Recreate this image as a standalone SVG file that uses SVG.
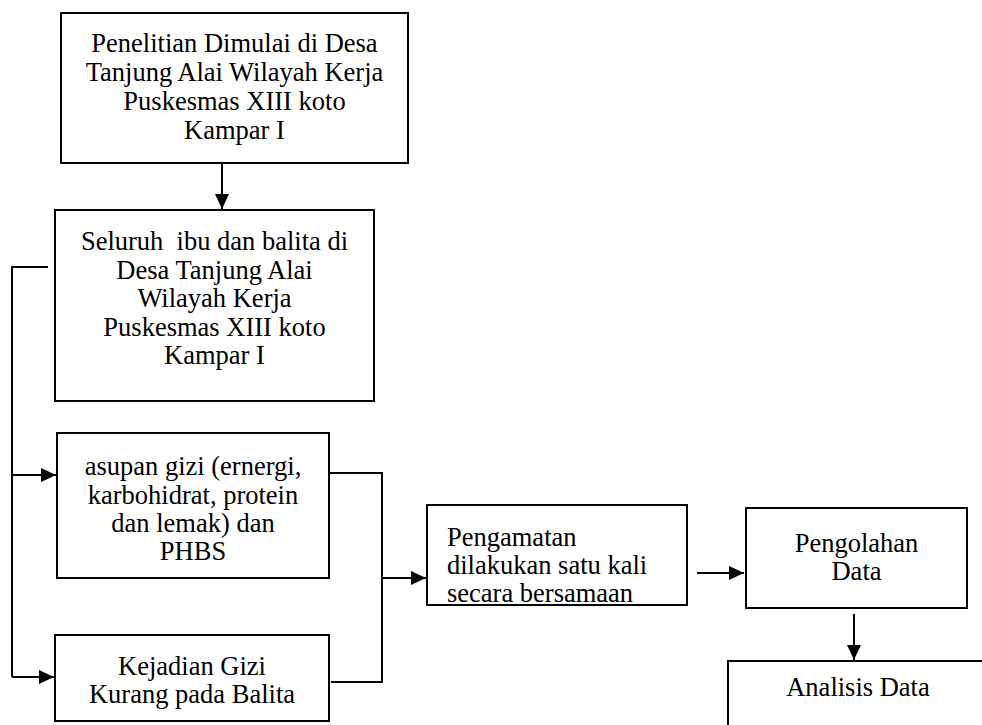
<svg xmlns="http://www.w3.org/2000/svg" width="982" height="725" viewBox="0 0 982 725">
<defs>
<marker id="ah" markerUnits="userSpaceOnUse" markerWidth="16" markerHeight="14" refX="15" refY="7" orient="auto">
<path d="M0,0 L15,7 L0,14 Z" fill="#000"/>
</marker>
<style>
.box{fill:#fff;stroke:#000;stroke-width:2}
.ln{fill:none;stroke:#000;stroke-width:2}
.t{font-family:"Liberation Serif","Times New Roman",serif;font-size:26.5px;fill:#000}
.c{text-anchor:middle}
</style>
</defs>
<rect width="982" height="725" fill="#fff"/>
<g id="connectors">
<line class="ln" x1="222" y1="163" x2="222" y2="209" marker-end="url(#ah)"/>
<polyline class="ln" points="48,267 12,267 12,677"/>
<line class="ln" x1="12" y1="475" x2="56" y2="475" marker-end="url(#ah)"/>
<line class="ln" x1="12" y1="677" x2="54" y2="677" marker-end="url(#ah)"/>
<polyline class="ln" points="330,473 382,473 382,682 331,682"/>
<line class="ln" x1="383" y1="578" x2="426" y2="578" marker-end="url(#ah)"/>
<line class="ln" x1="697" y1="573" x2="744" y2="573" marker-end="url(#ah)"/>
<line class="ln" x1="854" y1="614" x2="854" y2="660" marker-end="url(#ah)"/>
</g>
<g id="n1">
<rect class="box" x="61" y="13" width="347" height="150"/>
<text class="t c" x="234.5" y="52">Penelitian Dimulai di Desa</text>
<text class="t c" x="234.5" y="81">Tanjung Alai Wilayah Kerja</text>
<text class="t c" x="234.5" y="110">Puskesmas XIII koto</text>
<text class="t c" x="234.5" y="139">Kampar I</text>
</g>
<g id="n2">
<rect class="box" x="55" y="210" width="319" height="191"/>
<text class="t c" x="214.5" y="250" xml:space="preserve">Seluruh  ibu dan balita di</text>
<text class="t c" x="214.5" y="279">Desa Tanjung Alai</text>
<text class="t c" x="214.5" y="307">Wilayah Kerja</text>
<text class="t c" x="214.5" y="336">Puskesmas XIII koto</text>
<text class="t c" x="214.5" y="364">Kampar I</text>
</g>
<g id="n3">
<rect class="box" x="57" y="433" width="272" height="145"/>
<text class="t c" x="193" y="475">asupan gizi (ernergi,</text>
<text class="t c" x="193" y="504">karbohidrat, protein</text>
<text class="t c" x="193" y="532">dan lemak) dan</text>
<text class="t c" x="193" y="560">PHBS</text>
</g>
<g id="n4">
<rect class="box" x="55" y="635" width="274" height="86"/>
<text class="t c" x="192" y="675">Kejadian Gizi</text>
<text class="t c" x="192" y="703">Kurang pada Balita</text>
</g>
<g id="n5">
<rect class="box" x="427" y="505" width="260" height="100"/>
<text class="t" x="447" y="546">Pengamatan</text>
<text class="t" x="447" y="574">dilakukan satu kali</text>
<text class="t" x="447" y="602">secara bersamaan</text>
</g>
<g id="n6">
<rect class="box" x="746" y="508" width="221" height="100"/>
<text class="t c" x="856.5" y="552">Pengolahan</text>
<text class="t c" x="856.5" y="580">Data</text>
</g>
<g id="n7">
<rect class="box" x="728" y="661" width="270" height="80"/>
<text class="t c" x="858" y="696">Analisis Data</text>
</g>
</svg>
